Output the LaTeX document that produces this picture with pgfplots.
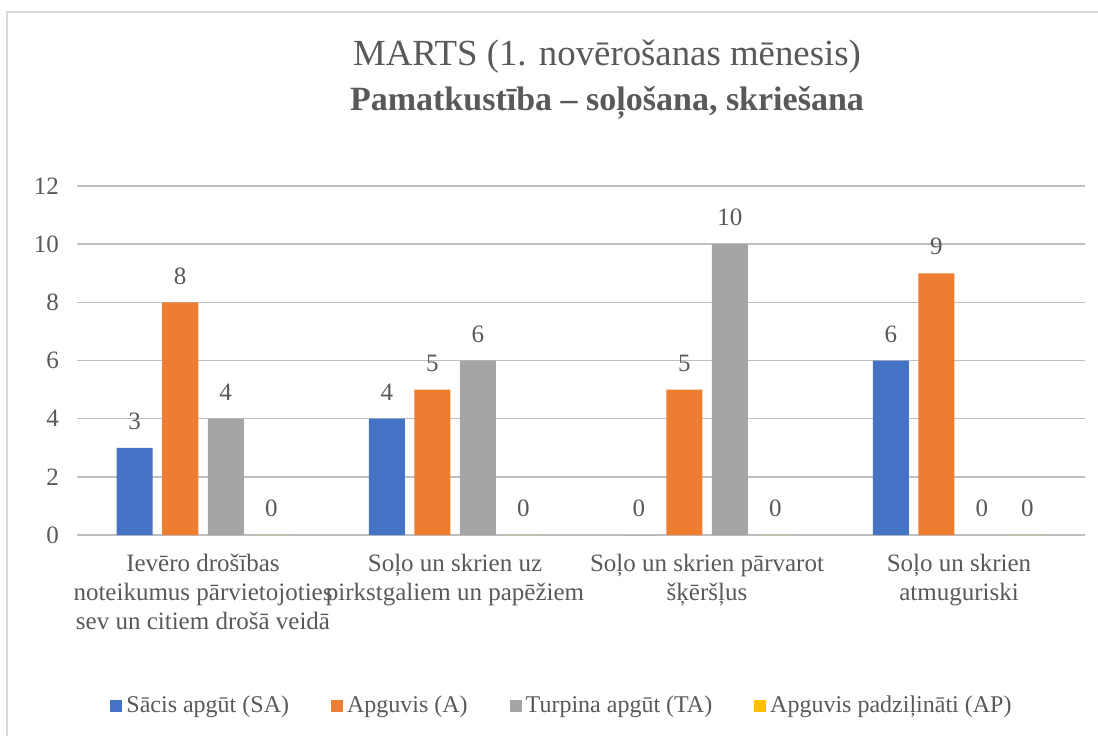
\documentclass[border=0pt]{standalone}
\usepackage{pgfplots}
\pgfplotsset{compat=1.18}
\usepackage{fontspec}
\setmainfont{Liberation Serif}
\definecolor{cA}{HTML}{4472C4}
\definecolor{cB}{HTML}{ED7D31}
\definecolor{cC}{HTML}{A5A5A5}
\definecolor{cD}{HTML}{FFC000}
\definecolor{txt}{HTML}{595959}
\definecolor{grid}{HTML}{D9D9D9}
\begin{document}
\begin{tikzpicture}
\path[use as bounding box] (-38.5pt,-100.5pt) rectangle (510.5pt,267.5pt);
\draw[grid, line width=1pt] (510.5pt,261.5pt) -- (-35pt,261.5pt) -- (-35pt,-100.5pt);
\node[align=center, text=txt, font=\fontsize{18.4}{22.5}\selectfont] at (265pt,227.5pt)
  {MARTS (1. novērošanas mēnesis)\\\textbf{\fontsize{17}{22.5}\selectfont Pamatkustība – soļošana, skriešana}};
\begin{axis}[
  at={(0,0)}, anchor=south west,
  scale only axis, width=504pt, height=174.5pt,
  ybar=4.75pt, bar width=18pt,
  xmin=-0.5, xmax=3.5, ymin=0, ymax=12,
  ytick={0,2,...,12},
  xtick=data,
  xticklabels={{Ievēro drošības\\noteikumus pārvietojoties\\sev un citiem drošā veidā},
               {Soļo un skrien uz\\pirkstgaliem un papēžiem},
               {Soļo un skrien pārvarot\\šķēršļus},
               {Soļo un skrien\\atmuguriski}},
  xticklabel style={align=center, font=\fontsize{12.5}{14.5}\selectfont, text=txt, yshift=-6pt},
  yticklabel style={font=\fontsize{12.5}{14}\selectfont, text=txt, xshift=-5.5pt},
  /pgf/number format/assume math mode=true,
  major tick length=0pt,
  ymajorgrids, xmajorgrids=false, grid style={grid, line width=0.8pt},
  axis line style={draw=none},
  nodes near coords,
  every node near coord/.append style={font=\fontsize{12.5}{14}\selectfont, text=txt, yshift=5.5pt},
  legend style={at={(243pt,-85.5pt)}, anchor=center, draw=none, fill=none,
    legend columns=-1, font=\fontsize{12}{14}\selectfont, text=txt,
    /tikz/every even column/.append style={column sep=19pt}},
  legend image code/.code={\fill[#1] (0pt,-3pt) rectangle (6pt,3pt);},
]
\addplot[fill=cA, draw=none] coordinates {(0,3) (1,4) (2,0) (3,6)};
\addplot[fill=cB, draw=none] coordinates {(0,8) (1,5) (2,5) (3,9)};
\addplot[fill=cC, draw=none] coordinates {(0,4) (1,6) (2,10) (3,0)};
\addplot[fill=cD, draw=none] coordinates {(0,0) (1,0) (2,0) (3,0)};
\legend{Sācis apgūt (SA), Apguvis (A), Turpina apgūt (TA), Apguvis padziļināti (AP)}
\end{axis}
\end{tikzpicture}
\end{document}
